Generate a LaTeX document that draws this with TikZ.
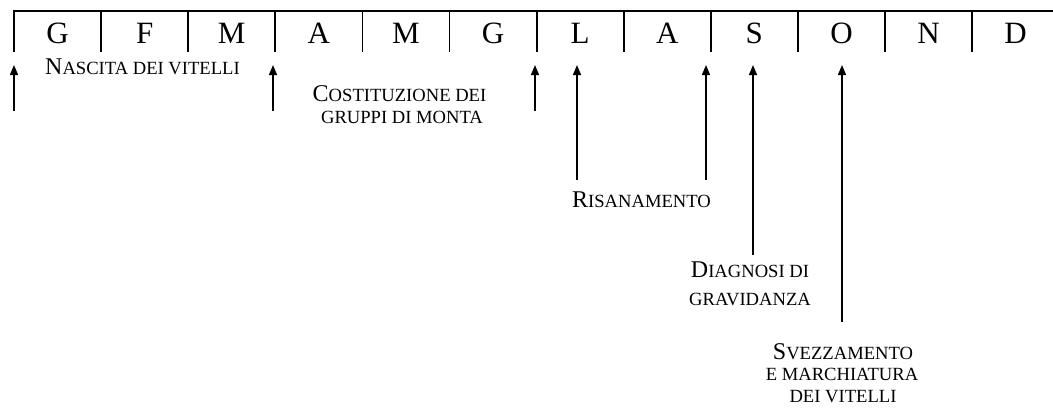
\documentclass[tikz,border=0pt]{standalone}
\usepackage{fontspec}
\setmainfont{Liberation Serif}
\usetikzlibrary{arrows.meta}
\newcommand{\bigsz}{\fontsize{24}{28}\selectfont}
\newcommand{\smsz}{\fontsize{18.6}{22}\selectfont}
\begin{document}
\begin{tikzpicture}[x=1pt,y=-1pt,
  month/.style={anchor=base,inner sep=0pt,font=\fontsize{31}{36}\selectfont},
  lbl/.style={anchor=base,inner sep=0pt,font=\smsz},
  divider/.style={line width=1.8pt},
  topline/.style={line width=2.6pt},
  uparrow/.style={line width=1.4pt,-{Triangle[length=10pt,width=8pt]}}]
\useasboundingbox (0,0) rectangle (1053,418);
% timeline
\coordinate (tl) at (13,11);
\coordinate (tr) at (1053,11);
\draw[topline] (tl) -- (tr);
\foreach \i in {0,...,11}{
  \coordinate (d\i t) at (14+87.1*\i,11);
  \coordinate (d\i b) at (14+87.1*\i,52);
  \draw[divider] (d\i t) -- (d\i b);
}
\foreach \m [count=\i from 0] in {G,F,M,A,M,G,L,A,S,O,N,D}{
  \node[month] (m\i) at (57.55+87.1*\i,43.5) {\m};
}
% labels
\node[lbl] (nascita) at (142.5,74) {{\bigsz N}ASCITA DEI VITELLI};
\node[lbl] (cost1) at (399.5,101) {{\bigsz C}OSTITUZIONE DEI};
\node[lbl] (cost2) at (402,123) {GRUPPI DI MONTA};
\node[lbl] (ris) at (641.5,207) {{\bigsz R}ISANAMENTO};
\node[lbl] (diag1) at (750,277) {{\bigsz D}IAGNOSI DI};
\node[lbl] (diag2) at (750,305) {GRAVIDANZA};
\node[lbl] (svez1) at (843,359) {{\bigsz S}VEZZAMENTO};
\node[lbl] (svez2) at (842,380) {E MARCHIATURA};
\node[lbl] (svez3) at (843,402) {DEI VITELLI};
% arrows
\foreach \n/\x/\t in {a/14/111,b/273/111,c/535/111,d/577/180,e/706/180,f/753/255,g/842/322}{
  \coordinate (\n tail) at (\x,\t);
  \coordinate (\n head) at (\x,65);
  \draw[uparrow] (\n tail) -- (\n head);
}
\end{tikzpicture}
\end{document}
